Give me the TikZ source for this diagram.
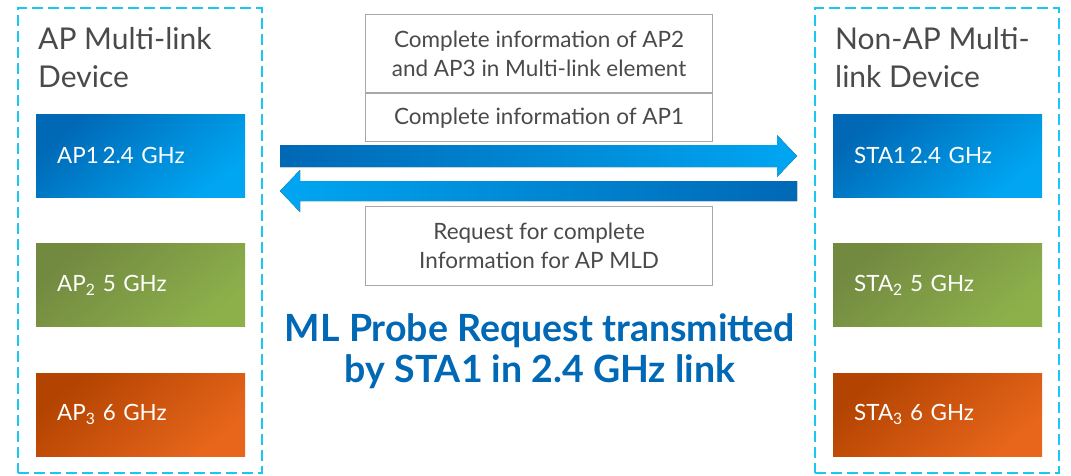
\documentclass[tikz,border=0pt]{standalone}
\usepackage{fontspec}
\setmainfont{Lato}
\usetikzlibrary{positioning, calc}
\definecolor{intelblue}{HTML}{0068B5}
\definecolor{skyblue}{HTML}{00A6F2}
\definecolor{olivedark}{HTML}{728940}
\definecolor{olivelight}{HTML}{8DB04B}
\definecolor{rustdark}{HTML}{B24300}
\definecolor{rustlight}{HTML}{E8661C}
\definecolor{framecyan}{HTML}{1CC6F2}
\definecolor{textgray}{HTML}{4A4A4A}
\definecolor{linegray}{HTML}{A8A8A8}
\tikzset{
	link/.style = {minimum height=83pt, text width=167pt, inner xsep=21pt, inner ysep=0pt,
		align=left, text=white, font=\fontsize{22.4}{26}\selectfont},
	infobox/.style = {draw=linegray, line width=1.2pt, minimum width=347pt, inner sep=0pt,
		align=center, text=textgray, font=\fontsize{22.5}{29}\selectfont}
}

\begin{document}
\begin{tikzpicture}[x=1pt, y=-1pt,
		bluelink/.style={link, top color=intelblue, bottom color=skyblue, shading angle=40},
		greenlink/.style={link, top color=olivedark, bottom color=olivelight, shading angle=40},
		orangelink/.style={link, top color=rustdark, bottom color=rustlight, shading angle=40},
		mld/.style={draw=framecyan, line width=2pt, dash pattern=on 11pt off 5pt,
			minimum width=244pt, minimum height=465pt, inner sep=0pt},
		heading/.style={anchor=north west, inner sep=0pt, align=left, text=textgray,
			font=\fontsize{30}{38}\selectfont},
		node distance=46pt
		]
		\useasboundingbox (0,0) rectangle (1071,475);
		
		% linke Seite: AP MLD
		\node[mld] (apmld) at (140,240.5) {};
		\node[heading] (aptitle) at (38,27) {AP Multi-link\\Device};
		\node[bluelink, anchor=north west] (ap1) at (36,114) {AP1\,2.4 GHz};
		\node[greenlink, below=of ap1] (ap2) {AP\textsubscript{2} 5 GHz};
		\node[orangelink, below=of ap2] (ap3) {AP\textsubscript{3} 6 GHz};
		
		% rechte Seite: Non-AP MLD
		\node[mld] (stamld) at (937,240.5) {};
		\node[heading] (statitle) at (835,27) {Non-AP Multi-\\link Device};
		\node[bluelink, anchor=north west] (sta1) at (833,114) {STA1\,2.4 GHz};
		\node[greenlink, below=of sta1] (sta2) {STA\textsubscript{2} 5 GHz};
		\node[orangelink, below=of sta2] (sta3) {STA\textsubscript{3} 6 GHz};
		
		% Frame-Inhalt
		\node[infobox, minimum height=78pt, anchor=north west] (mlelem) at (365,14)
			{Complete information of AP2\\and AP3 in Multi-link element};
		\node[infobox, minimum height=48pt, below=0pt of mlelem] (ap1info) {Complete information of AP1};
		\node[infobox, minimum height=79pt, anchor=north west] (req) at (365,206)
			{Request for complete\\Information for AP MLD};
		
		% Pfeile
		\coordinate (resp) at (280,156);
		\coordinate (resptip) at (797,156);
		\coordinate (reqtip) at (280,191);
		\coordinate (reqs) at (797,191);
		\fill[left color=intelblue, right color=skyblue]
			($(resp)+(0,-11)$) -- ($(resptip)+(-20,-11)$) -- ($(resptip)+(-20,-21)$) -- (resptip)
			-- ($(resptip)+(-20,21)$) -- ($(resptip)+(-20,11)$) -- ($(resp)+(0,11)$) -- cycle;
		\fill[left color=skyblue, right color=intelblue]
			($(reqs)+(0,-10)$) -- ($(reqtip)+(20,-10)$) -- ($(reqtip)+(20,-21)$) -- (reqtip)
			-- ($(reqtip)+(20,21)$) -- ($(reqtip)+(20,10)$) -- ($(reqs)+(0,10)$) -- cycle;
		
		\node[text=intelblue, align=center, font=\fontsize{37.5}{41}\bfseries\selectfont] (caption) at (540,351)
			{ML Probe Request transmitted\\by STA1 in 2.4 GHz link};
	\end{tikzpicture}
\end{document}
